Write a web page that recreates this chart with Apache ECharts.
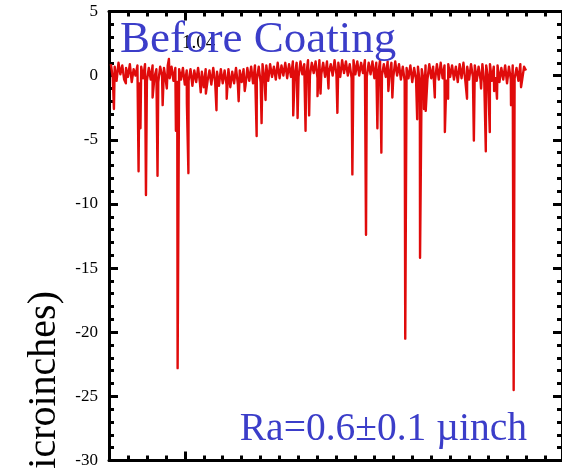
<!DOCTYPE html>
<html>
<head>
<meta charset="utf-8">
<script src="https://cdn.jsdelivr.net/npm/echarts@6/dist/echarts.min.js"></script>
<style>
  html, body { margin: 0; padding: 0; background: #fff; }
  #chart { width: 562px; height: 469px; }
</style>
</head>
<body>
<div id="chart"></div>
<script>
// surface profile, sampled every 0.1 along the trace (microinches)
const profileStart = 0.1;
const profileStep = 0.1;
const profile = [
  0.9, -0.2, 0.7, -0.4, 1.0, 0.1, 0.8, -0.3, 0.6, -0.1,
  0.9, -0.5, 0.5, 0.0, 0.8, -0.6, 0.7, -0.2, 0.9, -0.4,
  0.6, -0.3, 0.8, -0.1, 0.5, -0.5, 0.7, 0.0, 0.6, -0.4,
  0.8, -0.2, 0.7, -0.4, 0.6, -0.5, 0.5, -0.3, 0.6, -0.7,
  0.4, -0.4, 0.5, -0.8, 0.4, -0.5, 0.6, -0.6, 0.3, -0.9,
  0.5, -0.4, 0.4, -0.7, 0.6, -0.5, 0.3, -0.8, 0.5, -0.6,
  0.4, -0.7, 0.5, -0.9, 0.3, -0.6, 0.6, -0.7, 0.4, -0.5,
  0.5, -0.8, 0.6, -0.4, 0.7, -0.6, 0.8, -0.3, 0.7, -0.5,
  0.9, -0.2, 0.8, -0.4, 0.9, -0.1, 0.7, -0.3, 1.0, -0.2,
  0.8, 0.0, 1.0, -0.2, 0.9, -0.1, 1.1, 0.1, 1.0, -0.1,
  1.1, 0.1, 0.9, -0.1, 1.2, 0.0, 1.0, 0.2, 1.1, -0.2,
  1.2, 0.1, 1.0, -0.1, 1.1, 0.2, 0.9, 0.0, 1.2, 0.1,
  1.0, -0.1, 1.2, 0.2, 1.1, 0.0, 0.9, -0.2, 1.2, 0.1,
  1.1, 0.0, 1.0, 0.2, 1.2, -0.1, 1.0, 0.1, 1.1, -0.2,
  1.0, 0.1, 1.2, 0.0, 0.9, -0.1, 1.1, 0.1, 1.0, -0.1,
  1.1, 0.0, 0.9, -0.3, 0.7, -0.4, 0.6, -0.2, 0.8, -0.5,
  0.6, -0.3, 0.7, -0.6, 0.5, -0.4, 0.8, -0.3, 0.9, -0.2,
  0.7, -0.4, 0.9, -0.3, 1.0, -0.2, 0.8, -0.4, 0.9, -0.1,
  0.8, -0.3, 0.7, -0.5, 0.9, -0.2, 1.0, -0.4, 0.7, -0.3,
  0.9, -0.1, 0.8, -0.4, 0.7, -0.3, 0.9, -0.5, 0.8, -0.2,
  0.9, -0.4, 0.7, -0.2, 0.8, -0.5, 0.6, -0.3, 0.8, -0.6,
  0.7, -0.3, 0.8, -0.2, 0.6, -0.4, 0.9, -0.3, 0.7, 0.4
];

// narrow pits (and one peak)
const pitPos = [
  0.26, 0.89, 1.56, 1.66, 1.95, 2.30, 2.56, 2.83, 3.05, 3.16,
  3.53, 3.62, 4.11, 4.19, 4.84, 5.11, 5.67, 6.21, 6.84, 7.16,
  7.79, 8.05, 8.26, 9.72, 9.95, 10.37, 10.56, 11.00, 11.16, 11.58,
  12.05, 12.84, 13.56, 14.16, 14.37, 14.74, 14.95, 15.63, 16.26, 16.41,
  16.62, 16.71, 17.19, 17.72, 17.89, 18.89, 19.25, 19.63, 19.88, 20.09,
  20.32, 20.47, 21.21, 21.35, 21.74
];
const pitDepth = [
  -2.6, -0.6, -7.45, -4.1, -9.3, -1.7, -7.8, -2.3, -1.0, 1.3,
  -4.3, -22.8, -2.2, -7.6, -1.3, -1.4, -2.7, -1.8, -2.0, -1.2,
  -4.7, -3.7, -1.9, -3.1, -3.3, -4.3, -3.1, -1.6, -1.4, -1.0,
  -2.9, -7.7, -12.4, -4.1, -6.0, -1.2, -1.7, -20.5, -3.4, -14.2,
  -2.6, -2.75, -1.7, -4.4, -1.8, -1.8, -5.05, -1.0, -5.9, -4.4,
  -1.2, -1.8, -2.3, -24.5, -0.9
];

const yMin = -30;
const yMax = 5;
const yStep = 5;
const xMax = 23.9;
const xMajorTicks = [4];

const serif = 'Liberation Serif';
const blue = '#3b3dc9';
const red = '#e00b0b';

const trace = profile
  .map((v, i) => [+(profileStart + i * profileStep).toFixed(2), v])
  .concat(pitPos.map((x, i) => [x, pitDepth[i]]))
  .sort((a, b) => a[0] - b[0]);

const chart = echarts.init(document.getElementById('chart'), null, { renderer: 'canvas' });

const tickStyle = { color: '#000', width: 3 };

const xAxisBase = (position, major) => ({
  type: 'value',
  position: position,
  min: 0,
  max: xMax,
  interval: 1,
  axisLine: { show: !major, onZero: false, lineStyle: { color: '#000', width: 3 } },
  axisTick: major
    ? { show: true, inside: true, length: 9, customValues: xMajorTicks, lineStyle: tickStyle }
    : { show: true, inside: true, length: 5, lineStyle: tickStyle },
  axisLabel: { show: false },
  splitLine: { show: false }
});

const yAxisBase = (position, labels) => ({
  type: 'value',
  position: position,
  min: yMin,
  max: yMax,
  interval: yStep,
  axisLine: { show: true, onZero: false, lineStyle: { color: '#000', width: 3 } },
  axisTick: { show: true, inside: true, length: 9, lineStyle: tickStyle },
  minorTick: { show: true, splitNumber: 5, length: 5, lineStyle: tickStyle },
  axisLabel: {
    show: labels,
    margin: 11,
    color: '#000',
    fontFamily: serif,
    fontSize: 17
  },
  splitLine: { show: false },
  minorSplitLine: { show: false }
});

const option = {
  animation: false,
  backgroundColor: '#fff',
  grid: { left: 109, top: 11.5, width: 454, height: 454.5 },
  xAxis: [
    xAxisBase('bottom', false),
    xAxisBase('bottom', true),
    xAxisBase('top', false),
    xAxisBase('top', true)
  ],
  yAxis: [
    yAxisBase('left', true),
    yAxisBase('right', false)
  ],
  series: [{
    type: 'line',
    xAxisIndex: 0,
    yAxisIndex: 0,
    data: trace,
    showSymbol: false,
    symbol: 'none',
    sampling: null,
    lineStyle: { color: red, width: 2.4, join: 'round' },
    z: 3
  }],
  graphic: [
    {
      type: 'text', x: 182, y: 43.5, z: 10,
      style: { text: '1.04', fill: '#000', font: '19px "Liberation Serif"', textAlign: 'left', textVerticalAlign: 'middle' }
    },
    {
      type: 'text', x: 120, y: 40, z: 11,
      style: { text: 'Before Coating', fill: blue, font: '45px "Liberation Serif"', textAlign: 'left', textVerticalAlign: 'middle' }
    },
    {
      type: 'text', x: 527, y: 430, z: 11,
      style: { text: 'Ra=0.6\u00b10.1 \u00b5inch', fill: blue, font: '39.5px "Liberation Serif"', textAlign: 'right', textVerticalAlign: 'middle' }
    },
    {
      type: 'text', x: 44, y: 291, rotation: Math.PI / 2, z: 11,
      style: { text: 'Height (microinches)', fill: '#000', font: '40px "Liberation Serif"', textAlign: 'right', textVerticalAlign: 'middle' }
    }
  ]
};

chart.setOption(option);
</script>
</body>
</html>
